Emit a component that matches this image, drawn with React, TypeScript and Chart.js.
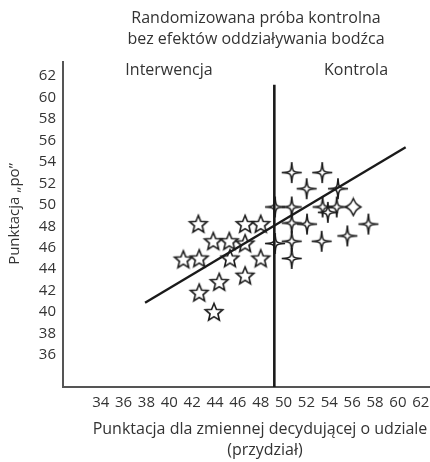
import React, { useEffect, useRef } from 'react';
import { Chart, registerables } from 'chart.js';

Chart.register(...registerables);

const titleLines = ['Randomizowana próba kontrolna', 'bez efektów oddziaływania bodźca'];
const groupLabels = ['Interwencja', 'Kontrola'];
const xTitleLines = ['Punktacja dla zmiennej decydującej o udziale', '(przydział)'];
const yTitle = 'Punktacja „po”';

const xTicks = [34, 36, 38, 40, 42, 44, 46, 48, 50, 52, 54, 56, 58, 60, 62];
const yTicks = [36, 38, 40, 42, 44, 46, 48, 50, 52, 54, 56, 58, 60, 62];

// Interwencja (five-pointed stars)
const interventionX = [42.54, 46.63, 48.0, 43.85, 45.25, 46.63, 41.23, 42.62, 45.31, 48.0, 46.63, 44.37, 42.62, 43.91];
const interventionY = [48.2, 48.2, 48.2, 46.6, 46.6, 46.4, 44.9, 45.0, 45.0, 45.0, 43.4, 42.8, 41.8, 40.0];

// Kontrola (four-pointed stars)
const controlX = [50.71, 53.38, 52.02, 54.76, 49.25, 50.71, 53.41, 54.65, 53.87, 50.71, 52.05, 57.42, 49.25, 50.71, 53.33, 55.58, 50.71];
const controlY = [53.0, 53.0, 51.5, 51.5, 49.8, 49.8, 49.8, 49.8, 49.3, 48.3, 48.2, 48.2, 46.4, 46.6, 46.6, 47.1, 45.0];
const controlWideX = [56.1];
const controlWideY = [49.8];

// Regression line and cut-off
const regressionX = [37.88, 60.68];
const regressionY = [40.87, 55.36];
const cutoffX = [49.19, 49.19];
const cutoffY = [33.02, 61.2];

const toPoints = (xs: number[], ys: number[]) => xs.map((x, i) => ({ x, y: ys[i] }));

function makeFivePointStar(): HTMLCanvasElement {
  const c = document.createElement('canvas');
  c.width = 24;
  c.height = 24;
  const g = c.getContext('2d')!;
  const cx = 12, cy = 12.5, R = 9.2, r = 4.1;
  g.beginPath();
  for (let i = 0; i < 10; i++) {
    const ang = -Math.PI / 2 + (i * Math.PI) / 5;
    const rad = i % 2 === 0 ? R : r;
    const px = cx + rad * Math.cos(ang);
    const py = cy + rad * Math.sin(ang);
    if (i === 0) g.moveTo(px, py);
    else g.lineTo(px, py);
  }
  g.closePath();
  g.fillStyle = '#ffffff';
  g.fill();
  g.lineWidth = 1.6;
  g.lineJoin = 'miter';
  g.strokeStyle = '#1c1c1c';
  g.stroke();
  return c;
}

function makeFourPointStar(Rx: number, Ry: number, a: number, lw: number): HTMLCanvasElement {
  const c = document.createElement('canvas');
  const w = Math.ceil(Rx * 2 + 4);
  const h = Math.ceil(Ry * 2 + 4);
  c.width = w;
  c.height = h;
  const g = c.getContext('2d')!;
  const cx = w / 2, cy = h / 2;
  g.beginPath();
  g.moveTo(cx, cy - Ry);
  g.bezierCurveTo(cx + a, cy - a, cx + a, cy - a, cx + Rx, cy);
  g.bezierCurveTo(cx + a, cy + a, cx + a, cy + a, cx, cy + Ry);
  g.bezierCurveTo(cx - a, cy + a, cx - a, cy + a, cx - Rx, cy);
  g.bezierCurveTo(cx - a, cy - a, cx - a, cy - a, cx, cy - Ry);
  g.closePath();
  g.fillStyle = '#ffffff';
  g.fill();
  g.lineWidth = lw;
  g.strokeStyle = '#1c1c1c';
  g.stroke();
  return c;
}

const textPlugin = {
  id: 'extraTexts',
  afterDraw(chart: any) {
    const { ctx } = chart;
    ctx.save();
    ctx.fillStyle = '#333333';
    ctx.textAlign = 'center';
    ctx.textBaseline = 'middle';
    ctx.font = '16px "Open Sans"';
    ctx.fillText(titleLines[0], 256, 18);
    ctx.fillText(titleLines[1], 256, 39);
    ctx.fillText(groupLabels[0], 169, 70);
    ctx.fillText(groupLabels[1], 356, 70);
    ctx.fillText(xTitleLines[0], 260, 429);
    ctx.fillText(xTitleLines[1], 265, 450);
    ctx.translate(15, 214);
    ctx.rotate(-Math.PI / 2);
    ctx.font = '15px "Open Sans"';
    ctx.fillText(yTitle, 0, 0);
    ctx.restore();
  },
};

export default function App() {
  const ref = useRef<HTMLCanvasElement | null>(null);

  useEffect(() => {
    if (!ref.current) return;
    const five = makeFivePointStar();
    const four = makeFourPointStar(10, 10.5, 0.6, 1.6);
    const fourWide = makeFourPointStar(7.5, 8.5, 2.8, 1.6);

    const chart = new Chart(ref.current, {
      type: 'scatter',
      data: {
        datasets: [
          {
            label: 'cutoff',
            type: 'line',
            data: toPoints(cutoffX, cutoffY),
            borderColor: '#1a1a1a',
            borderWidth: 2.6,
            pointRadius: 0,
            showLine: true,
            fill: false,
          } as any,
          {
            label: 'regression',
            type: 'line',
            data: toPoints(regressionX, regressionY),
            borderColor: '#1a1a1a',
            borderWidth: 2.4,
            pointRadius: 0,
            showLine: true,
            fill: false,
          } as any,
          {
            label: 'Kontrola',
            data: toPoints(controlX, controlY),
            pointStyle: four as any,
            pointRadius: 10,
          },
          {
            label: 'Kontrola2',
            data: toPoints(controlWideX, controlWideY),
            pointStyle: fourWide as any,
            pointRadius: 8,
          },
          {
            label: 'Interwencja',
            data: toPoints(interventionX, interventionY),
            pointStyle: five as any,
            pointRadius: 10,
          },
        ],
      },
      options: {
        responsive: false,
        animation: false,
        events: [],
        layout: { autoPadding: false, padding: { top: 62, right: 0, left: 0, bottom: 0 } },
        plugins: {
          legend: { display: false },
          title: { display: false },
          tooltip: { enabled: false },
        },
        scales: {
          x: {
            type: 'linear',
            min: 30.7,
            max: 62.81,
            grid: { display: false, drawTicks: false },
            border: { display: true, color: '#555555', width: 2 },
            ticks: {
              autoSkip: false,
              maxRotation: 0,
              padding: 7,
              color: '#333333',
              font: { family: '"Open Sans"', size: 15 },
            },
            afterBuildTicks: (scale: any) => {
              scale.ticks = xTicks.map((v) => ({ value: v }));
            },
            afterFit: (scale: any) => {
              scale.height = 75;
              scale.paddingLeft = 0;
              scale.paddingRight = 0;
            },
          },
          y: {
            type: 'linear',
            min: 33.02,
            max: 63.31,
            grid: { display: false, drawTicks: false },
            border: { display: true, color: '#555555', width: 2 },
            ticks: {
              autoSkip: false,
              padding: 7,
              color: '#333333',
              font: { family: '"Open Sans"', size: 15 },
            },
            afterBuildTicks: (scale: any) => {
              scale.ticks = yTicks.map((v) => ({ value: v }));
            },
            afterFit: (scale: any) => {
              scale.width = 63;
              scale.paddingTop = 0;
              scale.paddingBottom = 0;
            },
          },
        },
      },
      plugins: [textPlugin],
    });
    return () => chart.destroy();
  }, []);

  return (
    <div style={{ position: 'absolute', left: 0, top: 0, width: 430, height: 462, background: '#ffffff' }}>
      <canvas ref={ref} width={430} height={462} />
    </div>
  );
}
